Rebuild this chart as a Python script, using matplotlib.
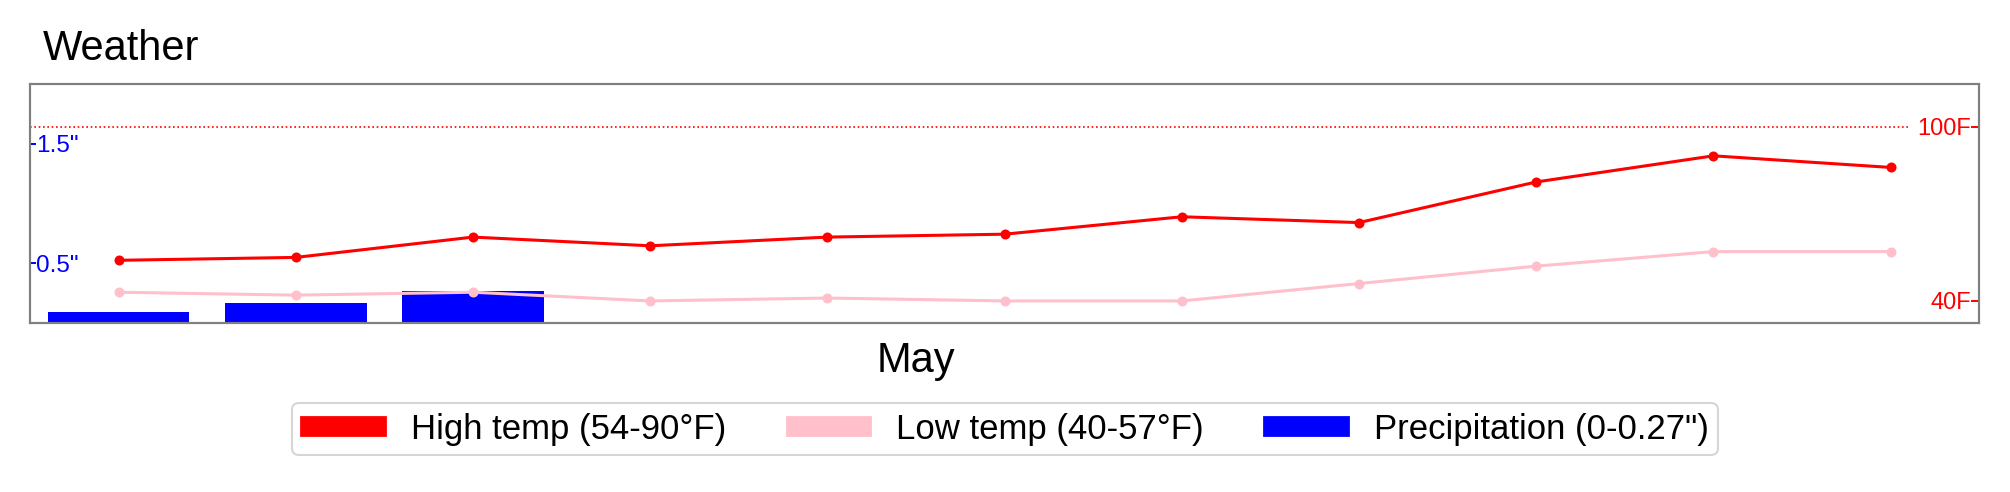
import matplotlib.pyplot as plt
from matplotlib.patches import Patch

plt.rcParams['font.family'] = ['Liberation Sans', 'DejaVu Sans']

days = list(range(11))
high_temp = [54, 55, 62, 59, 62, 63, 69, 67, 81, 90, 86]
low_temp = [43, 42, 43, 40, 41, 40, 40, 46, 52, 57, 57]
precip = [0.09, 0.17, 0.27, 0, 0, 0, 0, 0, 0, 0, 0]
month_pos = [4.5]
month_labels = ['May']

fig = plt.figure(figsize=(10.05, 2.46), dpi=200)
ax = fig.add_axes([0.0149, 0.3435, 0.9698, 0.4855])

# precipitation on the left axis, drawn below the temps
ax.bar(days, precip, width=0.8, color='blue')
ax.set_ylim(0, 2.0)
ax.set_xlim(-0.5, 10.5)
ax.set_yticks([0.5, 1.5])
ax.set_yticklabels(['0.5"', '1.5"'])
ax.tick_params(axis='y', direction='in', length=2.2, width=0.7, pad=-2.2,
               colors='blue', labelsize=8.8)
for lbl in ax.get_yticklabels():
    lbl.set_horizontalalignment('left')
ax.set_xticks(month_pos)
ax.set_xticklabels(month_labels, fontsize=15)
ax.tick_params(axis='x', length=0, pad=6.5)

ax2 = ax.twinx()
ax2.plot(days, low_temp, color='pink', lw=1.1, marker='o', markersize=2.6)
ax2.plot(days, high_temp, color='red', lw=1.1, marker='o', markersize=2.6)
ax2.axhline(100, xmin=0, xmax=0.964, color='red', lw=0.6, linestyle=(0, (1, 1.6)))
ax2.set_ylim(32.4, 114.7)
ax2.set_yticks([40, 100])
ax2.set_yticklabels(['40F', '100F'])
ax2.tick_params(axis='y', direction='in', length=2.9, width=0.7, pad=-2.9,
                colors='red', labelsize=8.5)
for lbl in ax2.get_yticklabels():
    lbl.set_horizontalalignment('right')

for a in (ax, ax2):
    for s in a.spines.values():
        s.set_color('#808080')
        s.set_linewidth(0.75)

fig.text(0.0214, 0.878, 'Weather', fontsize=15, ha='left', va='baseline')

handles = [Patch(color='red'), Patch(color='pink'), Patch(color='blue')]
labels = ['High temp (54-90°F)', 'Low temp (40-57°F)', 'Precipitation (0-0.27")']
leg = fig.legend(handles, labels, loc='center', bbox_to_anchor=(0.5, 0.128),
                 ncol=3, fontsize=12.5, handlelength=2.4, handleheight=0.45,
                 handletextpad=0.75, columnspacing=1.75, borderpad=0.28,
                 fancybox=True, framealpha=1)
leg.get_frame().set_edgecolor('#d6d6d6')
leg.get_frame().set_linewidth(0.75)

fig.savefig('out.png', dpi=200)
